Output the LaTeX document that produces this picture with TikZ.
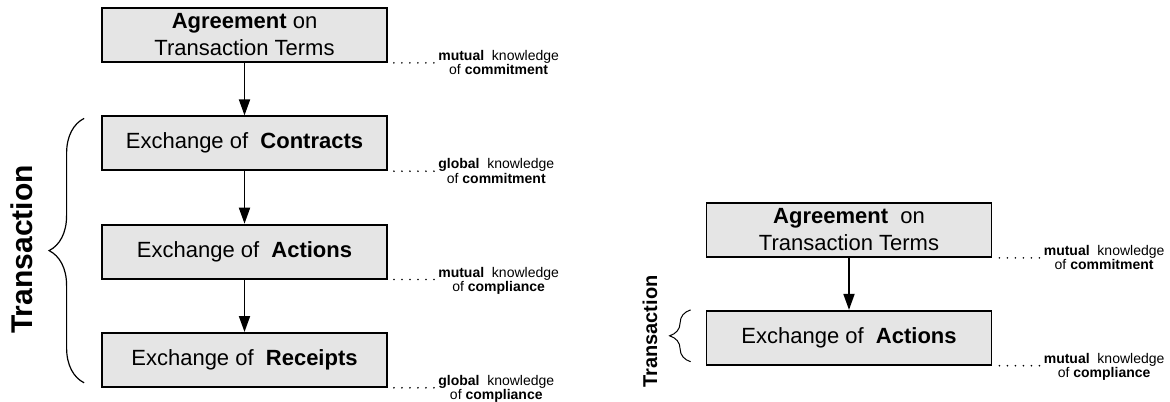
\documentclass[tikz,border=0pt]{standalone}
\usepackage{fontspec}
\setmainfont{Liberation Sans}
\usetikzlibrary{arrows.meta,positioning,decorations.pathreplacing}

\begin{document}
\begin{tikzpicture}[x=0.5pt,y=-0.5pt,>={Triangle[length=8pt,width=5.5pt]},
    phase/.style={draw,line width=0.9pt,fill=gray!20,minimum width=142.5pt,minimum height=27pt,
      inner sep=0pt,align=center,font=\fontsize{11}{13.5}\selectfont},
    know/.style={anchor=base west,inner sep=0pt,align=center,font=\fontsize{7}{7.2}\selectfont},
    flow/.style={->,line width=0.9pt},
    leader/.style={line width=0.9pt,line cap=round,dash pattern=on 0pt off 4pt},
    curly/.style={decorate,decoration={brace,amplitude=#1}},
    node distance=26.25pt]
    \useasboundingbox (0,0) rectangle (1170,401);

    % full transaction
    \node[phase] (agreeL) at (244.5,35) {\textbf{Agreement} on\\Transaction Terms};
    \node[phase,below=of agreeL] (contracts) {Exchange of\ \ \textbf{Contracts}};
    \node[phase,below=of contracts] (actionsL) {Exchange of\ \ \textbf{Actions}};
    \node[phase,below=of actionsL] (receipts) {Exchange of\ \ \textbf{Receipts}};

    \draw[flow] (agreeL) -- (contracts);
    \draw[flow] (contracts) -- (actionsL);
    \draw[flow] (actionsL) -- (receipts);

    \node[know] (kAgreeL) at ([xshift=25pt,yshift=-6pt]agreeL.south east) {\textbf{mutual}\ \ knowledge\\of \textbf{commitment}};
    \node[know] (kContracts) at ([xshift=25pt,yshift=-6pt]contracts.south east) {\textbf{global}\ \ knowledge\\of \textbf{commitment}};
    \node[know] (kActionsL) at ([xshift=25pt,yshift=-6pt]actionsL.south east) {\textbf{mutual}\ \ knowledge\\of \textbf{compliance}};
    \node[know] (kReceipts) at ([xshift=25pt,yshift=-6pt]receipts.south east) {\textbf{global}\ \ knowledge\\of \textbf{compliance}};

    \draw[leader] ([xshift=3pt]agreeL.south east) -- ([xshift=-2pt]kAgreeL.west |- agreeL.south east);
    \draw[leader] ([xshift=3pt]contracts.south east) -- ([xshift=-2pt]kContracts.west |- contracts.south east);
    \draw[leader] ([xshift=3pt]actionsL.south east) -- ([xshift=-2pt]kActionsL.west |- actionsL.south east);
    \draw[leader] ([xshift=3pt]receipts.south east) -- ([xshift=-2pt]kReceipts.west |- receipts.south east);

    \draw[curly=17.5pt,line width=0.6pt] ([xshift=-8.5pt,yshift=2.5pt]receipts.south west) -- ([xshift=-8.5pt,yshift=-1.5pt]contracts.north west);
    \node[rotate=90,inner sep=0pt,font=\bfseries\fontsize{15}{18}\selectfont] (txL) at (21.5,249.5) {Transaction};

    % reduced transaction
    \node[phase] (agreeR) at (849,230) {\textbf{Agreement}\ \ on\\Transaction Terms};
    \node[phase,below=26pt of agreeR] (actionsR) {Exchange of\ \ \textbf{Actions}};

    \draw[flow] (agreeR) -- (actionsR);

    \node[know] (kAgreeR) at ([xshift=25.5pt,yshift=-6pt]agreeR.south east) {\textbf{mutual}\ \ knowledge\\of \textbf{commitment}};
    \node[know] (kActionsR) at ([xshift=25.5pt,yshift=-6pt]actionsR.south east) {\textbf{mutual}\ \ knowledge\\of \textbf{compliance}};

    \draw[leader] ([xshift=3.5pt]agreeR.south east) -- ([xshift=-2pt]kAgreeR.west |- agreeR.south east);
    \draw[leader] ([xshift=3.5pt]actionsR.south east) -- ([xshift=-2pt]kActionsR.west |- actionsR.south east);

    \draw[curly=10.5pt,line width=0.5pt] ([xshift=-7.5pt,yshift=2pt]actionsR.south west) -- ([xshift=-7.5pt]actionsR.north west);
    \node[rotate=90,inner sep=0pt,font=\bfseries\fontsize{10}{12}\selectfont] (txR) at (650,331.5) {Transaction};
\end{tikzpicture}
\end{document}
